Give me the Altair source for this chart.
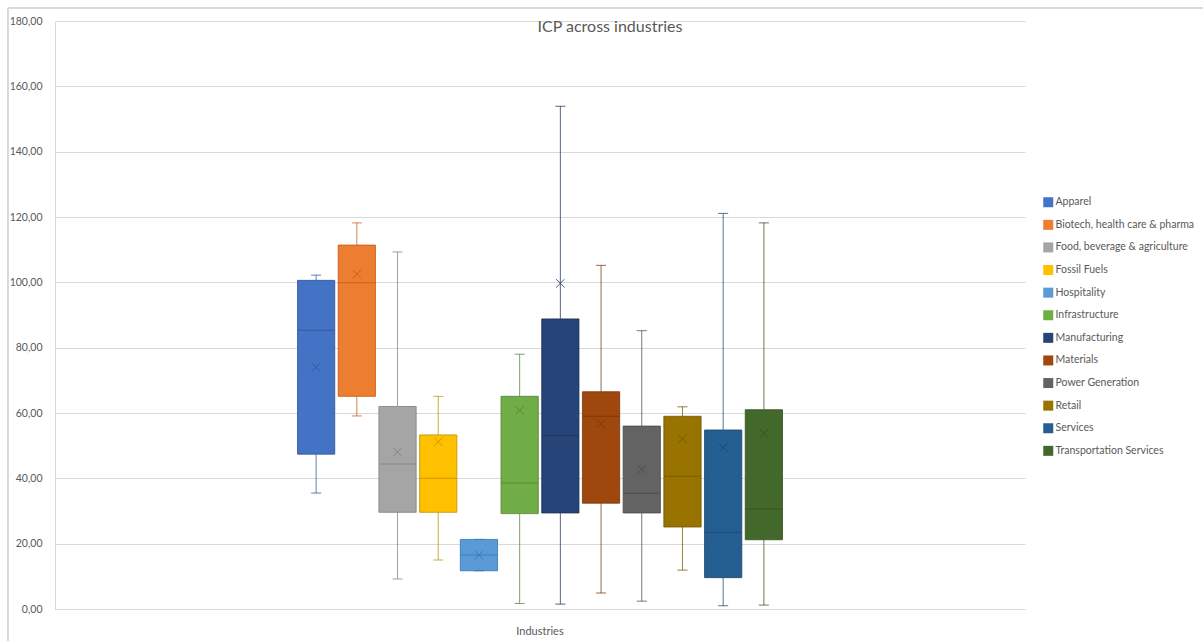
import altair as alt
import pandas as pd

# Five-number summary plus mean of the internal carbon price, per industry
industries = [
    "Apparel",
    "Biotech, health care & pharma",
    "Food, beverage & agriculture",
    "Fossil Fuels",
    "Hospitality",
    "Infrastructure",
    "Manufacturing",
    "Materials",
    "Power Generation",
    "Retail",
    "Services",
    "Transportation Services",
]
whisker_low = [35.5, 59.1, 9.2, 15.0, 11.7, 1.7, 1.5, 4.9, 2.4, 11.9, 1.0, 1.2]
q1 = [47.4, 65.1, 29.6, 29.6, 11.7, 29.2, 29.4, 32.4, 29.4, 25.1, 9.6, 21.2]
median = [85.3, 99.9, 44.4, 40.0, 16.5, 38.6, 53.2, 59.0, 35.4, 40.6, 23.5, 30.6]
q3 = [100.6, 111.4, 62.0, 53.3, 21.3, 65.1, 88.8, 66.5, 56.0, 59.0, 54.8, 61.0]
whisker_high = [102.2, 118.2, 109.3, 65.1, 21.3, 78.0, 153.9, 105.2, 85.2, 61.9, 121.1, 118.2]
mean = [74.0, 102.5, 48.1, 51.2, 16.5, 60.8, 99.7, 56.7, 42.8, 52.1, 49.4, 53.8]

# Office palette: fills and darker edge shades
fill_colors = ["#4472C4", "#ED7D31", "#A5A5A5", "#FFC000", "#5B9BD5", "#70AD47",
               "#264478", "#9E480E", "#636363", "#997300", "#255E91", "#43682B"]
edge_colors = ["#2F5597", "#C55A11", "#7F7F7F", "#BF9000", "#2E75B6", "#548235",
               "#1C3358", "#77350A", "#4A4A4A", "#735600", "#1B466C", "#325020"]

df = pd.DataFrame({
    "group": "Industries",
    "industry": industries,
    "lo": whisker_low,
    "q1": q1,
    "median": median,
    "q3": q3,
    "hi": whisker_high,
    "mean": mean,
})

FONT = "Lato"
TEXT = "#595959"
GRID = "#D9D9D9"

x_enc = alt.X(
    "group:N",
    scale=alt.Scale(paddingInner=0, paddingOuter=0.5),
    axis=alt.Axis(title=None, ticks=False, labelAngle=0, labelPadding=16,
                  labelFontSize=11, labelColor=TEXT, labelFont=FONT,
                  domainColor=GRID, grid=False),
)
xo_enc = alt.XOffset("industry:N", sort=industries,
                     scale=alt.Scale(paddingInner=0.085, paddingOuter=0))
y_scale = alt.Scale(domain=[0, 180], nice=False)
y_axis = alt.Axis(
    title=None, values=list(range(0, 181, 20)), ticks=False, labelPadding=13,
    labelExpr="replace(format(datum.value, '.2f'), '.', ',')",
    labelFontSize=10.5, labelColor=TEXT, labelFont=FONT,
    gridColor=GRID, domainColor=GRID,
)
fill_scale = alt.Scale(domain=industries, range=fill_colors)
edge_scale = alt.Scale(domain=industries, range=edge_colors)
edge = alt.Color("industry:N", scale=edge_scale, legend=None)

base = alt.Chart(df).encode(x=x_enc, xOffset=xo_enc)

# thin frame around the chart area
frame = alt.Chart(df).mark_rect(filled=False, stroke=GRID, strokeWidth=1).encode(
    x=alt.value(-47), x2=alt.value(1160), y=alt.value(-13), y2=alt.value(640)
)

# interquartile boxes (first data layer, so its legend leads)
boxes = base.mark_bar().encode(
    y=alt.Y("q1:Q", scale=y_scale, axis=y_axis),
    y2="q3:Q",
    fill=alt.Fill("industry:N", scale=fill_scale,
                  legend=alt.Legend(title=None, orient="none", legendX=988,
                                    legendY=176, symbolStrokeWidth=0)),
)

# whiskers run from each box edge out to the extremes
whisker_down = base.mark_rule(strokeWidth=1, opacity=0.75).encode(
    y=alt.Y("lo:Q", scale=y_scale), y2="q1:Q", color=edge,
)
whisker_up = base.mark_rule(strokeWidth=1, opacity=0.75).encode(
    y=alt.Y("q3:Q", scale=y_scale), y2="hi:Q", color=edge,
)

cap_low = base.mark_tick(size=10, thickness=1, opacity=0.75).encode(
    y=alt.Y("lo:Q", scale=y_scale), color=edge,
)
cap_high = base.mark_tick(size=10, thickness=1, opacity=0.75).encode(
    y=alt.Y("hi:Q", scale=y_scale), color=edge,
)

box_edges = base.mark_bar(filled=False, strokeWidth=1, opacity=0.8).encode(
    y=alt.Y("q1:Q", scale=y_scale), y2="q3:Q", color=edge,
)

medians = base.mark_tick(size=37, thickness=1, opacity=0.8).encode(
    y=alt.Y("median:Q", scale=y_scale), color=edge,
)

means = base.mark_point(
    shape="M-1,-1L1,1M1,-1L-1,1", size=70, filled=False, strokeWidth=1, opacity=0.8
).encode(
    y=alt.Y("mean:Q", scale=y_scale), color=edge,
)

chart = (
    alt.layer(frame, boxes, whisker_down, whisker_up, cap_low, cap_high,
              box_edges, medians, means)
    .properties(
        width=970,
        height=588,
        autosize=alt.AutoSizeParams(type="none"),
        padding={"left": 55, "top": 21, "right": 178, "bottom": 32},
        title=alt.TitleParams(
            "ICP across industries", anchor="middle", dx=70, dy=31,
            fontSize=16, font=FONT, fontWeight="normal", color=TEXT,
        ),
    )
    .configure_view(strokeWidth=0)
    .configure_legend(
        symbolType="square", symbolSize=100,
        labelFontSize=10.5, labelColor=TEXT, labelFont=FONT, labelOffset=2,
        rowPadding=11.6,
    )
)

chart.save("out.html", embed_options={"renderer": "svg", "actions": False})
